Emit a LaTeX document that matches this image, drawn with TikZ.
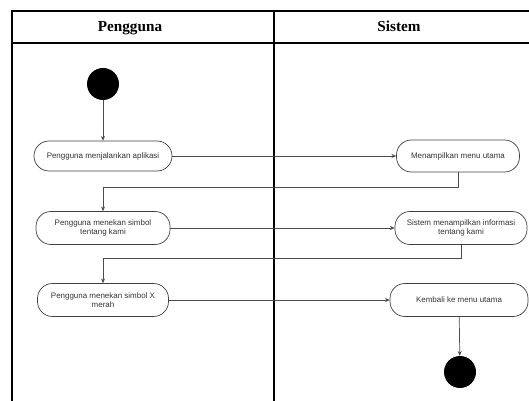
\documentclass[tikz,border=0pt]{standalone}
\usepackage{fontspec}
\setmainfont{Liberation Serif}
\newfontfamily\actfont{Liberation Sans}
\usetikzlibrary{arrows.meta}

\begin{document}
\begin{tikzpicture}[
        x=0.03cm, y=-0.03cm,
        lane line/.style={line width=1.6pt, black},
        lane title/.style={font=\bfseries\fontsize{13}{15}\selectfont},
        act/.style={draw=black!75, line width=0.6pt, rounded corners=0.45cm,
            align=center, inner sep=1pt, font=\actfont\fontsize{6.8}{7.8}\selectfont,
            text=black!80, minimum height=0.99cm},
        dot/.style={circle, fill=black, minimum size=0.96cm, inner sep=0pt},
        flow/.style={draw=black!70, line width=0.6pt, -{Stealth[length=4pt, width=3.5pt]}}
      ]

      \useasboundingbox (0,0) rectangle (529,401);

      % swimlanes
      \draw [lane line] (12,401) -- (12,11) -- (529,11);
      \draw [lane line] (12,43) -- (529,43);
      \draw [lane line] (274,11) -- (274,401);
      \node[lane title] (pengguna) at (130,28) {Pengguna};
      \node[lane title] (sistem) at (399,26) {Sistem};

      \node[dot] (start) at (103,84) {};
      \node[act, minimum width=4.14cm, minimum height=0.9cm] (jalankan) at (103,156) {Pengguna menjalankan aplikasi};
      \node[act, minimum width=3.69cm, minimum height=0.96cm] (menu) at (458,156) {Menampilkan menu utama};
      \node[act, minimum width=4.02cm] (tentang) at (103,228) {Pengguna menekan simbol\\tentang kami};
      \node[act, minimum width=3.96cm] (info) at (461,228) {Sistem menampilkan informasi\\tentang kami};
      \node[act, minimum width=3.93cm] (tutup) at (103,300) {Pengguna menekan simbol X\\merah};
      \node[act, minimum width=4.14cm] (kembali) at (459,300) {Kembali ke menu utama};
      \node[dot] (end) at (460,372) {};

      \draw [flow] (start) -- (jalankan);
      \draw [flow] (jalankan) -- (menu);
      \draw [flow] (menu.south) -- ++(0,15) -| (tentang.north);
      \draw [flow] (tentang) -- (info);
      \draw [flow] (info.south) -- ++(0,13) -| (tutup.north);
      \draw [flow] (tutup) -- (kembali);
      \draw [flow] (kembali) -- (end);

    \end{tikzpicture}
\end{document}
